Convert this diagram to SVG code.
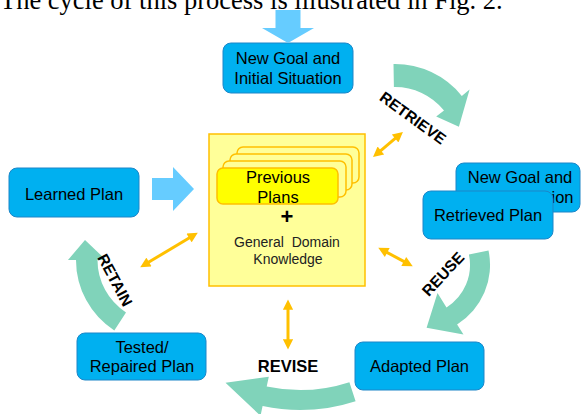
<svg xmlns="http://www.w3.org/2000/svg" width="581" height="414" viewBox="0 0 581 414">
<defs>
<style>
.box{fill:#00B0F0;stroke:#1C86C8;stroke-width:1}
.t{font-family:'Liberation Sans',Arial,sans-serif;font-size:16.5px;fill:#000;text-anchor:middle}
.lbl{font-family:'Liberation Sans',Arial,sans-serif;font-size:15.5px;font-weight:bold;fill:#000;text-anchor:middle}
.teal{fill:#80D3BA}
.blue{fill:#66CCFF}
.orange{stroke:#FFC000;stroke-width:3;fill:none;marker-start:url(#ah);marker-end:url(#ah)}
.card{fill:#FFFF99;stroke:#FFC000;stroke-width:1.5}
</style>
<marker id="ah" viewBox="0 0 10 10" refX="2" refY="5" markerWidth="4" markerHeight="3.4" orient="auto-start-reverse" markerUnits="strokeWidth">
<path d="M0,0 L10,5 L0,10 z" fill="#FFC000"/>
</marker>
</defs>
<rect width="581" height="414" fill="#fff"/>
<text x="0" y="9" font-family="'Liberation Serif','Times New Roman',serif" font-size="26.5" fill="#000">The cycle of this process is illustrated in Fig. 2.</text>

<g id="knowledge">
<rect x="209" y="134" width="156" height="152" fill="#FFFF99" stroke="#FFC000" stroke-width="1.5"/>
<rect class="card" x="237" y="147" width="122" height="36" rx="6"/>
<rect class="card" x="230" y="154" width="122" height="36" rx="6"/>
<rect class="card" x="223" y="161" width="123" height="36" rx="6"/>
<rect x="217" y="168" width="121" height="36" rx="6" fill="#FFFF00" stroke="#FFC000" stroke-width="1.5"/>
<text class="t" x="278" y="183">Previous</text>
<text class="t" x="278" y="203">Plans</text>
<text x="287" y="224" font-family="'Liberation Sans',Arial,sans-serif" font-size="22" font-weight="bold" text-anchor="middle">+</text>
<text x="287" y="247" font-family="'Liberation Sans',Arial,sans-serif" font-size="14" fill="#222" text-anchor="middle" xml:space="preserve">General  Domain</text>
<text x="288" y="264" font-family="'Liberation Sans',Arial,sans-serif" font-size="14" fill="#222" text-anchor="middle">Knowledge</text>
</g>

<g id="new-goal">
<rect class="box" x="223" y="43" width="130" height="50" rx="8"/>
<text class="t" x="288" y="64">New Goal and</text>
<text class="t" x="288" y="83.5">Initial Situation</text>
</g>

<g id="new-goal-copy">
<rect class="box" x="456" y="163" width="124" height="49" rx="8"/>
<text class="t" x="520" y="183">New Goal and</text>
<text class="t" x="573.5" y="203" style="text-anchor:end">ion</text>
</g>

<g id="retrieved-plan">
<rect class="box" x="423" y="191" width="130" height="48" rx="8"/>
<text class="t" x="488" y="221">Retrieved Plan</text>
</g>

<g id="adapted-plan">
<rect class="box" x="355" y="342" width="129" height="48" rx="8"/>
<text class="t" x="419.5" y="372">Adapted Plan</text>
</g>

<g id="tested-plan">
<rect class="box" x="77" y="333" width="129" height="47" rx="8"/>
<text class="t" x="142" y="353">Tested/</text>
<text class="t" x="142" y="372">Repaired Plan</text>
</g>

<g id="learned-plan">
<rect class="box" x="9" y="168" width="130" height="49" rx="8"/>
<text class="t" x="74" y="199.5">Learned Plan</text>
</g>

<g id="connectors">
<polygon class="blue" points="275.5,10 300.5,10 300.5,28 314,28 288,43 262,28 275.5,28"/>
<polygon class="blue" points="152,178 173,178 173,167 194,189 173,211 173,200 152,200"/>
<line class="orange" x1="379.3" y1="151.8" x2="396.7" y2="137.2"/>
<line class="orange" x1="385.45" y1="251.56" x2="405.55" y2="262.44"/>
<line class="orange" x1="147.23" y1="263.06" x2="190.77" y2="236.94"/>
<line class="orange" x1="288" y1="307.6" x2="288" y2="341.4"/>
<path class="teal" d="M393.5,64 A86,86 0 0 1 461.8,95.9 L469.6,89.6 L458.9,126.7 L436.2,116.6 L444,110.4 A63,63 0 0 0 393.9,87 Z"/>
<path class="teal" d="M488.5,250.4 A70,70 0 0 1 457.1,324.4 L463.5,334.5 L426.6,327.7 L437.5,293 L446.5,307.4 A50,50 0 0 0 468.9,254.6 Z"/>
<path class="teal" d="M355.6,401.2 A180,180 0 0 1 262.6,406.1 L260.5,415.8 L225.5,382.8 L268.8,376.7 L266.7,386.5 A160,160 0 0 0 349.4,382.2 Z"/>
<path class="teal" d="M114.3,330.5 A84,84 0 0 1 76,260 L68,260 L85,240 L106,260 L97.5,260 A62.5,62.5 0 0 0 126,312.4 Z"/>
<text class="lbl" transform="translate(413,118) rotate(36)" dy="0.35em">RETRIEVE</text>
<text class="lbl" transform="translate(443,274) rotate(-47)" dy="0.35em">REUSE</text>
<text class="lbl" transform="translate(115,280) rotate(62)" dy="0.35em">RETAIN</text>
<text class="lbl" x="288" y="372" style="font-size:16.5px">REVISE</text>
</g>
</svg>
